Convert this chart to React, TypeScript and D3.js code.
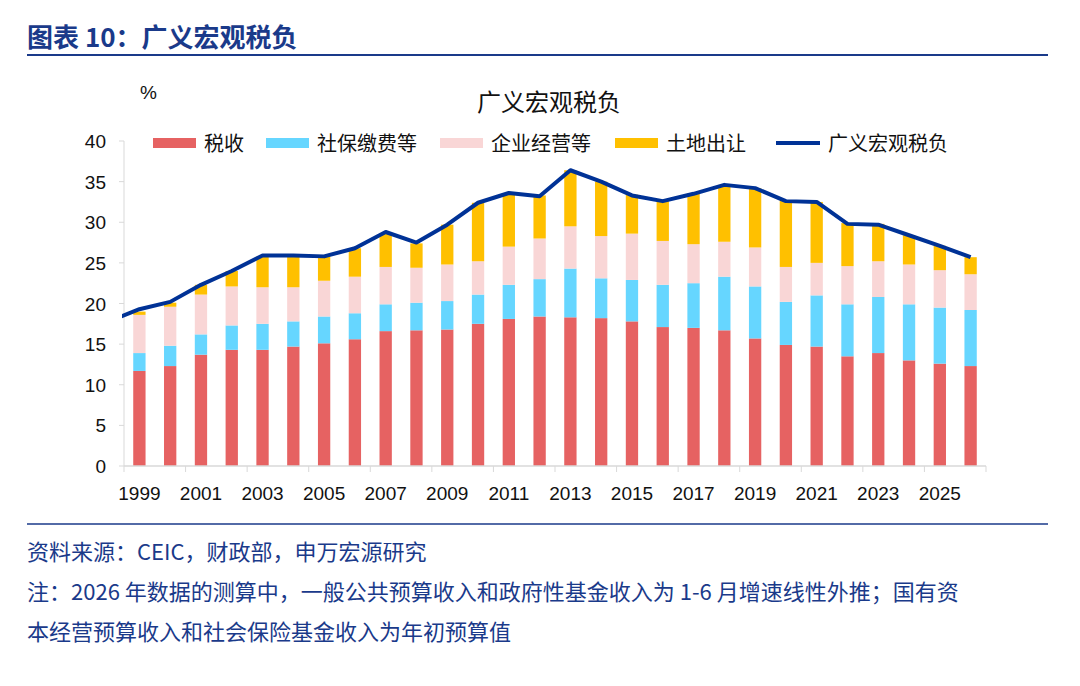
import React from 'react';
import * as d3 from 'd3';

const years = d3.range(1999, 2027).map(String);
const tax = [11.7,12.3,13.7,14.3,14.3,14.7,15.1,15.6,16.6,16.7,16.8,17.5,18.1,18.4,18.3,18.2,17.8,17.1,17.0,16.7,15.7,14.9,14.7,13.5,13.9,13.0,12.6,12.3];
const social = [2.2,2.5,2.5,3.0,3.2,3.1,3.3,3.2,3.3,3.4,3.5,3.6,4.2,4.6,6.0,4.9,5.1,5.2,5.5,6.6,6.4,5.3,6.3,6.4,6.9,6.9,6.9,6.9];
const business = [4.7,4.8,4.9,4.8,4.5,4.2,4.4,4.5,4.6,4.3,4.5,4.1,4.7,5.0,5.2,5.2,5.7,5.4,4.8,4.3,4.8,4.3,4.0,4.7,4.4,4.9,4.6,4.4];
const land = [0.4,0.5,1.2,1.9,3.8,3.8,3.0,3.5,4.1,3.0,4.9,7.2,6.6,5.3,6.9,6.7,4.8,5.0,6.3,7.0,7.3,8.2,7.5,5.3,4.6,3.6,3.0,2.1];
const total = [19.3,20.2,22.3,24.0,25.9,25.9,25.8,26.8,28.8,27.5,29.7,32.4,33.6,33.2,36.4,35.0,33.3,32.6,33.5,34.6,34.2,32.6,32.5,29.8,29.7,28.4,27.1,25.7];
const startValue = 17.8; // 1998, clipped at the plot edge
const yTicks = [0,5,10,15,20,25,30,35,40];

const seriesNames = ['税收','社保缴费等','企业经营等','土地出让'];
const seriesColors = ['#E66262','#66D6FF','#F9D6D6','#FFC000'];
const lineColor = '#003296';
const navy = '#1A3A8A';
const font = '"Noto Sans CJK SC", "Noto Sans", sans-serif';
const numFont = '"Liberation Sans", Arial, sans-serif';

export default function App() {
  const width = 1080, height = 686;
  const left = 124, right = 986, top = 141, bottom = 466;
  const x = d3.scaleBand().domain(years).range([left, right]).paddingInner(0.6).paddingOuter(0.3);
  const step = x.step();
  const cx = (i: number) => left + step * (i + 0.5);
  const y = d3.scaleLinear().domain([0, 40]).range([bottom, top]);
  const stacks = [tax, social, business, land];
  const rows = years.map((yr, i) => ({ yr, v: stacks.map(s => s[i]) }));
  const linePts: [number, number][] = [[cx(-1), y(startValue)], ...total.map((v, i) => [cx(i), y(v)] as [number, number])];
  const line = d3.line();
  const legend = [
    { x: 153, label: seriesNames[0], c: seriesColors[0] },
    { x: 266, label: seriesNames[1], c: seriesColors[1] },
    { x: 440, label: seriesNames[2], c: seriesColors[2] },
    { x: 615, label: seriesNames[3], c: seriesColors[3] },
  ];
  return (
    <svg width={width} height={height} style={{ position: 'absolute', left: 0, top: 0, background: '#fff' }} fontFamily={font}>
      <text x={27} y={47} fontSize={26} fontWeight="bold" fill={navy}>图表 10：广义宏观税负</text>
      <line x1={27} x2={1048} y1={55} y2={55} stroke={navy} strokeWidth={2} />
      <text x={549} y={111} fontSize={24} textAnchor="middle" fill="#111">广义宏观税负</text>
      <text x={140} y={99} fontSize={19} fill="#111" fontFamily={numFont}>%</text>
      {legend.map(l => (
        <g key={l.label}>
          <rect x={l.x} y={138} width={43} height={10} fill={l.c} />
          <text x={l.x + 51} y={151} fontSize={20} fill="#111">{l.label}</text>
        </g>
      ))}
      <line x1={776} x2={820} y1={143} y2={143} stroke={lineColor} strokeWidth={4} />
      <text x={828} y={151} fontSize={20} fill="#111">广义宏观税负</text>
      {yTicks.map(t => (
        <g key={t}>
          <line x1={left - 5} x2={left} y1={y(t)} y2={y(t)} stroke="#d9d9d9" />
          <text x={106} y={y(t) + 7} fontSize={19} textAnchor="end" fill="#111" fontFamily={numFont}>{t}</text>
        </g>
      ))}
      <line x1={left} x2={left} y1={top} y2={bottom} stroke="#d9d9d9" />
      {rows.map(r => {
        let acc = 0;
        return r.v.map((v, k) => {
          const y0 = y(acc); acc += v; const y1 = y(acc);
          return <rect key={r.yr + k} x={x(r.yr)} width={x.bandwidth()} y={y1} height={y0 - y1} fill={seriesColors[k]} />;
        });
      })}
      <line x1={left} x2={right} y1={bottom} y2={bottom} stroke="#d9d9d9" strokeWidth={1.5} />
      {d3.range(0, 29, 2).map(i => (
        <line key={i} x1={left + step * i} x2={left + step * i} y1={bottom} y2={bottom + 6} stroke="#d9d9d9" />
      ))}
      {years.filter((_, i) => i % 2 === 0).map((yr) => (
        <text key={yr} x={cx(years.indexOf(yr))} y={500} fontSize={19} textAnchor="middle" fill="#111" fontFamily={numFont}>{yr}</text>
      ))}
      <clipPath id="plotClip"><rect x={left - 2} y={0} width={right - left} height={bottom} /></clipPath>
      <path d={line(linePts) || ''} fill="none" stroke={lineColor} strokeWidth={4} strokeLinejoin="round" clipPath="url(#plotClip)" />
      <line x1={27} x2={1048} y1={524} y2={524} stroke={navy} strokeWidth={1.5} />
      <text x={27} y={560} fontSize={22} fill={navy}>资料来源：CEIC，财政部，申万宏源研究</text>
      <text x={27} y={600} fontSize={22} fill={navy}>注：2026 年数据的测算中，一般公共预算收入和政府性基金收入为 1-6 月增速线性外推；国有资</text>
      <text x={27} y={640} fontSize={22} fill={navy}>本经营预算收入和社会保险基金收入为年初预算值</text>
    </svg>
  );
}
